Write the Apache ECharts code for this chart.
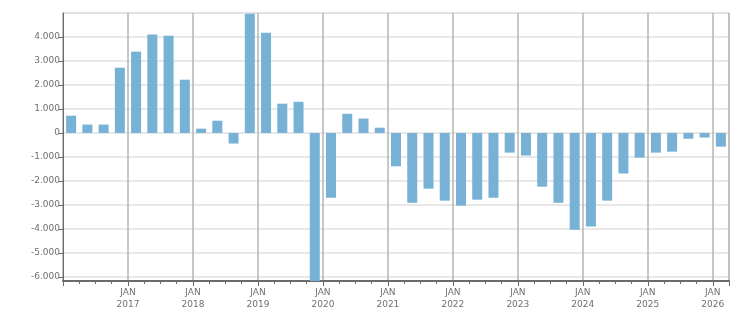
<!DOCTYPE html>
<html>
<head>
<meta charset="utf-8">
<script src="https://cdn.jsdelivr.net/npm/echarts@6/dist/echarts.min.js"></script>
<style>
html,body{margin:0;padding:0;background:#fff;}
#chart{width:751px;height:313px;}
</style>
</head>
<body>
<div id="chart"></div>
<script>
// Quarterly values, Q1 2016 .. Q1 2026
const quarters = [
  '2016 Q1','2016 Q2','2016 Q3','2016 Q4',
  '2017 Q1','2017 Q2','2017 Q3','2017 Q4',
  '2018 Q1','2018 Q2','2018 Q3','2018 Q4',
  '2019 Q1','2019 Q2','2019 Q3','2019 Q4',
  '2020 Q1','2020 Q2','2020 Q3','2020 Q4',
  '2021 Q1','2021 Q2','2021 Q3','2021 Q4',
  '2022 Q1','2022 Q2','2022 Q3','2022 Q4',
  '2023 Q1','2023 Q2','2023 Q3','2023 Q4',
  '2024 Q1','2024 Q2','2024 Q3','2024 Q4',
  '2025 Q1','2025 Q2','2025 Q3','2025 Q4',
  '2026 Q1'
];
const values = [
  720, 350, 350, 2720,
  3390, 4100, 4050, 2220,
  180, 510, -440, 4970,
  4180, 1220, 1300, -6170,
  -2700, 800, 600, 220,
  -1390, -2910, -2320, -2820,
  -3030, -2780, -2700, -820,
  -940, -2240, -2910, -4030,
  -3900, -2820, -1690, -1030,
  -820, -780, -240, -190,
  -570
];
const startYear = 2016;
const yMin = -6170;
const yMax = 5000;

const data = values.map((v, i) => [i + 0.5, v]);
const thousands = v => {
  const s = Math.abs(Math.round(v)).toString().replace(/\B(?=(\d{3})+(?!\d))/g, '.');
  return (v < 0 ? '-' : '') + s;
};

const chart = echarts.init(document.getElementById('chart'), null, {renderer: 'canvas'});
chart.setOption({
  animation: false,
  backgroundColor: '#ffffff',
  grid: {left: 63, right: 22, top: 13, bottom: 32, show: true, borderColor: '#dcdcdc', borderWidth: 1.5, backgroundColor: 'transparent'},
  xAxis: {
    type: 'value',
    min: 0,
    max: quarters.length,
    interval: 4,
    axisLine: {show: true, onZero: false, lineStyle: {color: '#6a6a6a', width: 2}},
    axisTick: {show: true, length: 5, lineStyle: {color: '#6a6a6a', width: 1}},
    minorTick: {show: true, splitNumber: 4, length: 3, lineStyle: {color: '#6a6a6a', width: 1}},
    splitLine: {show: true, lineStyle: {color: '#b4b4b4', width: 1.5}},
    axisLabel: {
      color: '#707070', fontFamily: 'DejaVu Sans', fontSize: 9, lineHeight: 12, margin: 6,
      showMaxLabel: false,
      formatter: v => v === 0 ? '' : 'JAN\n' + (startYear + v / 4)
    }
  },
  yAxis: {
    type: 'value',
    min: yMin,
    max: yMax,
    splitNumber: 11,
    axisLine: {show: true, lineStyle: {color: '#6a6a6a', width: 1}},
    axisTick: {show: true, length: 4, lineStyle: {color: '#6a6a6a'}},
    splitLine: {show: true, lineStyle: {color: '#e0e0e0', width: 1.5}},
    axisLabel: {
      color: '#707070', fontFamily: 'DejaVu Sans', fontSize: 9, margin: 3,
      showMinLabel: false, showMaxLabel: false,
      formatter: thousands
    }
  },
  series: [{
    type: 'bar',
    data: data,
    barWidth: 10,
    clip: true,
    itemStyle: {color: '#77b1d5'}
  }]
});
</script>
</body>
</html>
